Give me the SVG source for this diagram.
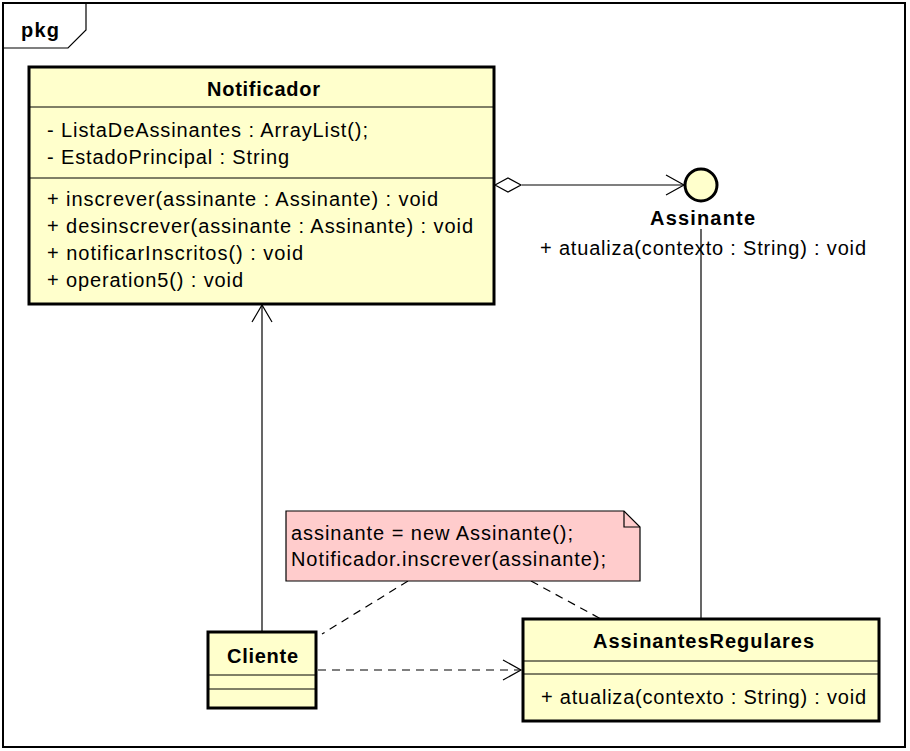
<svg xmlns="http://www.w3.org/2000/svg" width="910" height="751" viewBox="0 0 910 751">
<style>
text{font-family:"Liberation Sans",Arial,sans-serif;font-size:20px;fill:#000}
.b{font-weight:bold}
.cls{fill:#FFFFCC;stroke:#000;stroke-width:3}
.sep{stroke:#000;stroke-width:1;fill:none}
.ln{stroke:#000;stroke-width:1.2;fill:none}
.dash{stroke:#000;stroke-width:1.2;fill:none;stroke-dasharray:8,6}
</style>
<rect x="0" y="0" width="910" height="751" fill="#fff"/>
<g id="frame">
<rect x="3" y="3" width="902" height="744" fill="none" stroke="#000" stroke-width="2"/>
<path d="M86 3 V30 L68 48 H3" fill="none" stroke="#000" stroke-width="1.2"/>
<text class="b" x="21" y="37" textLength="38">pkg</text>
</g>
<g id="connectors">
<line class="ln" x1="262" y1="631" x2="262" y2="305"/>
<polyline class="ln" points="252,322 262,305 272,322"/>
<line class="ln" x1="522" y1="185" x2="685" y2="185"/>
<polygon points="495,185 508,178 521,185 508,192" fill="#fff" stroke="#000" stroke-width="1.2"/>
<polyline class="ln" points="666,175 684,185 666,195"/>
<line class="ln" x1="701" y1="229" x2="701" y2="619"/>
<line class="dash" x1="318" y1="670" x2="520" y2="670"/>
<polyline class="ln" points="503,660 521,670 503,680"/>
<line class="dash" x1="408" y1="581" x2="322" y2="634"/>
<line class="dash" x1="531" y1="581" x2="601" y2="619"/>
</g>
<g id="Notificador">
<rect class="cls" x="29" y="67" width="465" height="237"/>
<line class="sep" x1="29" y1="107" x2="494" y2="107"/>
<line class="sep" x1="29" y1="178" x2="494" y2="178"/>
<text class="b" x="207" y="96" textLength="113">Notificador</text>
<text x="47" y="137" textLength="321">- ListaDeAssinantes : ArrayList();</text>
<text x="47" y="164" textLength="242">- EstadoPrincipal : String</text>
<text x="47" y="206" textLength="391">+ inscrever(assinante : Assinante) : void</text>
<text x="47" y="233" textLength="426">+ desinscrever(assinante : Assinante) : void</text>
<text x="47" y="260" textLength="256">+ notificarInscritos() : void</text>
<text x="47" y="287" textLength="196">+ operation5() : void</text>
</g>
<g id="Assinante">
<circle cx="701" cy="185" r="16" fill="#FFFFCC" stroke="#000" stroke-width="3"/>
<text class="b" x="650" y="225" textLength="105">Assinante</text>
<text x="540" y="255" textLength="326">+ atualiza(contexto : String) : void</text>
</g>
<g id="note">
<path d="M286 511 H624 L640 527 V581 H286 Z" fill="#FFCCCC" stroke="#000" stroke-width="1.2"/>
<path d="M624 511 V527 H640" fill="none" stroke="#000" stroke-width="1.2"/>
<text x="291" y="540" textLength="282">assinante = new Assinante();</text>
<text x="291" y="566" textLength="315">Notificador.inscrever(assinante);</text>
</g>
<g id="Cliente">
<rect class="cls" x="208" y="632" width="108" height="76"/>
<line class="sep" x1="208" y1="675" x2="316" y2="675"/>
<line class="sep" x1="208" y1="689" x2="316" y2="689"/>
<text class="b" x="227" y="663" textLength="71">Cliente</text>
</g>
<g id="AssinantesRegulares">
<rect class="cls" x="523" y="619" width="356" height="102"/>
<line class="sep" x1="523" y1="661" x2="879" y2="661"/>
<line class="sep" x1="523" y1="674" x2="879" y2="674"/>
<text class="b" x="593" y="648" textLength="221">AssinantesRegulares</text>
<text x="541" y="704" textLength="325">+ atualiza(contexto : String) : void</text>
</g>
</svg>
